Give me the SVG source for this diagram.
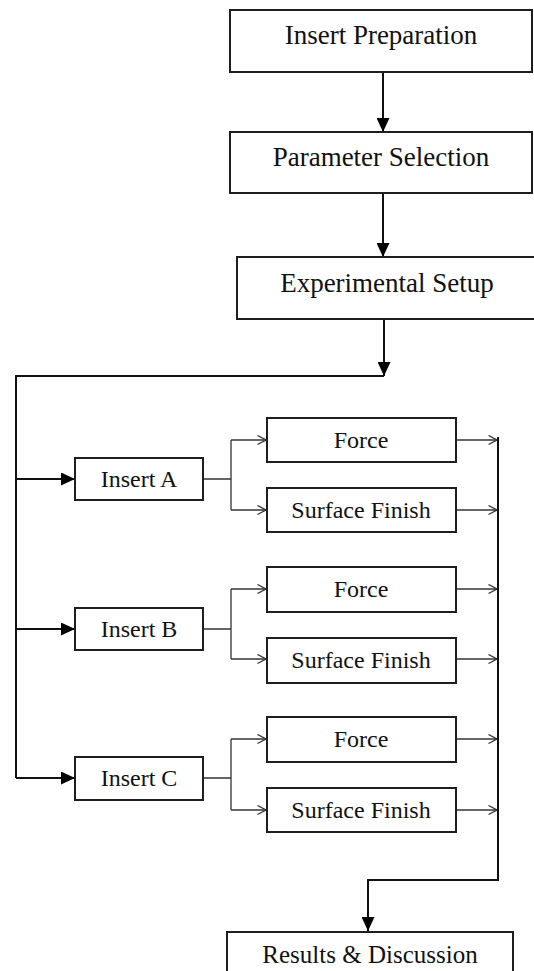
<svg xmlns="http://www.w3.org/2000/svg" width="534" height="971" viewBox="0 0 534 971">
<defs>
<style>
.box{fill:#fff;stroke:#1e1e1e;stroke-width:2}
.t1{font-family:"Liberation Serif","Times New Roman",serif;font-size:27px;fill:#111;text-anchor:middle}
.t2{font-family:"Liberation Serif","Times New Roman",serif;font-size:24px;fill:#111;text-anchor:middle}
.main{fill:none;stroke:#111;stroke-width:2}
.thin{fill:none;stroke:#333;stroke-width:1.3}
</style>
<marker id="fa" markerUnits="userSpaceOnUse" markerWidth="14" markerHeight="13" refX="14" refY="6.5" orient="auto"><path d="M0,0 L14,6.5 L0,13 z" fill="#000"/></marker>
<marker id="oa" markerUnits="userSpaceOnUse" markerWidth="10" markerHeight="11" refX="9.5" refY="5.5" orient="auto"><path d="M1,1 L9.5,5.5 L1,10" fill="none" stroke="#333" stroke-width="1.3"/></marker>
</defs>
<g id="connectors">
<path class="main" d="M383,72 V132" marker-end="url(#fa)"/>
<path class="main" d="M383,193 V257" marker-end="url(#fa)"/>
<path class="main" d="M384,319 V376" marker-end="url(#fa)"/>
<path class="main" d="M384,376 H16 V778"/>
<path class="main" d="M16,479 H75" marker-end="url(#fa)"/>
<path class="main" d="M16,629 H75" marker-end="url(#fa)"/>
<path class="main" d="M16,778 H75" marker-end="url(#fa)"/>
<path class="thin" d="M203,479 H231 M231,440 V510"/>
<path class="thin" d="M231,440 H266" marker-end="url(#oa)"/>
<path class="thin" d="M231,510 H266" marker-end="url(#oa)"/>
<path class="thin" d="M203,629 H231 M231,589 V659"/>
<path class="thin" d="M231,589 H266" marker-end="url(#oa)"/>
<path class="thin" d="M231,659 H266" marker-end="url(#oa)"/>
<path class="thin" d="M203,778 H231 M231,739 V810"/>
<path class="thin" d="M231,739 H266" marker-end="url(#oa)"/>
<path class="thin" d="M231,810 H266" marker-end="url(#oa)"/>
<path class="thin" d="M456,440 H497" marker-end="url(#oa)"/>
<path class="thin" d="M456,510 H497" marker-end="url(#oa)"/>
<path class="thin" d="M456,589 H497" marker-end="url(#oa)"/>
<path class="thin" d="M456,659 H497" marker-end="url(#oa)"/>
<path class="thin" d="M456,739 H497" marker-end="url(#oa)"/>
<path class="thin" d="M456,810 H497" marker-end="url(#oa)"/>
<path class="main" d="M498,437 V880 H368 V931" marker-end="url(#fa)"/>
</g>
<g id="insert-preparation"><rect class="box" x="230" y="10" width="302" height="62"/><text class="t1" x="381" y="44">Insert Preparation</text></g>
<g id="parameter-selection"><rect class="box" x="230" y="132" width="302" height="61"/><text class="t1" x="381" y="166">Parameter Selection</text></g>
<g id="experimental-setup"><rect class="box" x="237" y="257" width="300" height="62"/><text class="t1" x="387" y="292">Experimental Setup</text></g>
<g id="insert-a"><rect class="box" x="75" y="458" width="128" height="42"/><text class="t2" x="139" y="487">Insert A</text></g>
<g id="force-a"><rect class="box" x="267" y="418" width="189" height="44"/><text class="t2" x="361" y="448">Force</text></g>
<g id="surface-finish-a"><rect class="box" x="267" y="488" width="189" height="44"/><text class="t2" x="361" y="518">Surface Finish</text></g>
<g id="insert-b"><rect class="box" x="75" y="608" width="128" height="42"/><text class="t2" x="139" y="637">Insert B</text></g>
<g id="force-b"><rect class="box" x="267" y="567" width="189" height="45"/><text class="t2" x="361" y="597">Force</text></g>
<g id="surface-finish-b"><rect class="box" x="267" y="638" width="189" height="45"/><text class="t2" x="361" y="668">Surface Finish</text></g>
<g id="insert-c"><rect class="box" x="75" y="757" width="128" height="43"/><text class="t2" x="139" y="786">Insert C</text></g>
<g id="force-c"><rect class="box" x="267" y="717" width="189" height="45"/><text class="t2" x="361" y="747">Force</text></g>
<g id="surface-finish-c"><rect class="box" x="267" y="788" width="189" height="44"/><text class="t2" x="361" y="818">Surface Finish</text></g>
<g id="results-discussion"><rect class="box" x="227" y="932" width="286" height="60"/><text class="t1" x="370" y="963" style="font-size:25px">Results &amp; Discussion</text></g>
</svg>
